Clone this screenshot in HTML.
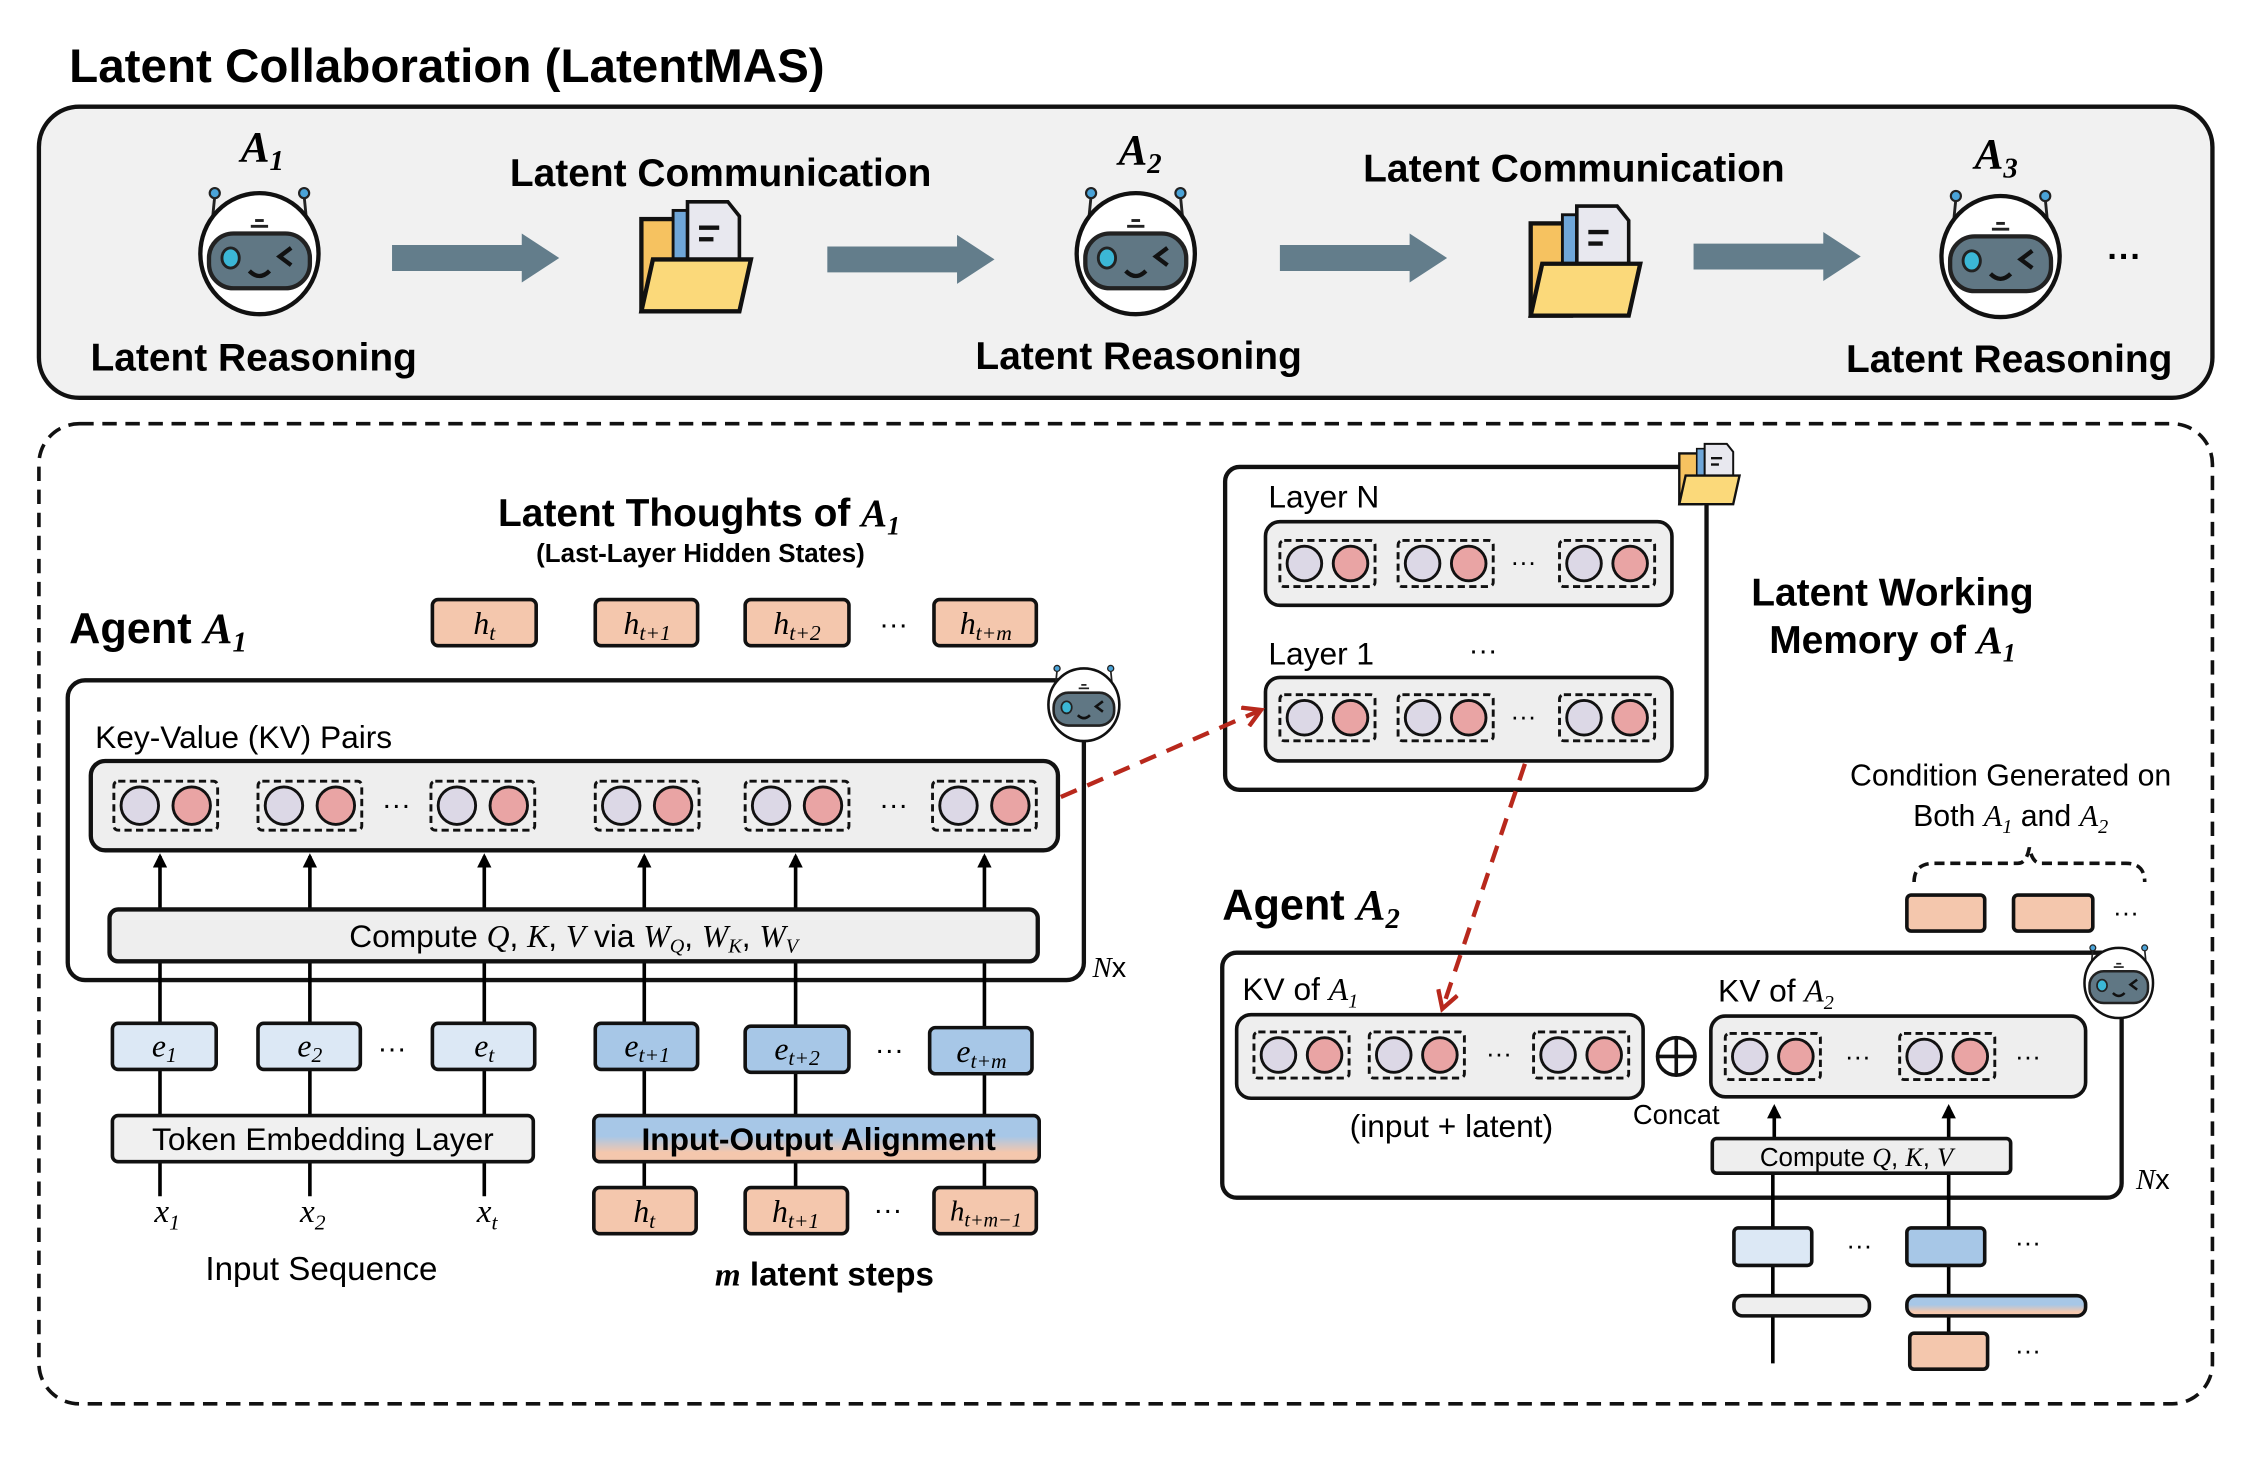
<!DOCTYPE html>
<html><head><meta charset="utf-8"><style>
html,body{margin:0;padding:0;background:#fff;}
svg{display:block}
text{font-family:"Liberation Sans",sans-serif;fill:#000}
.b{font-weight:bold}
.m{font-family:"Liberation Serif",serif;font-style:italic}
</style></head><body>
<svg width="2260" height="1460" viewBox="0 0 1568 1013" preserveAspectRatio="none" xmlns="http://www.w3.org/2000/svg">
<defs>
<g id="robot">
 <line x1="-31" y1="-40" x2="-33" y2="-20" stroke="#222" stroke-width="2"/>
 <line x1="31" y1="-40" x2="33" y2="-20" stroke="#222" stroke-width="2"/>
 <circle cx="-31" cy="-42" r="3.5" fill="#4aa3d8" stroke="#222" stroke-width="1.5"/>
 <circle cx="31" cy="-42" r="3.5" fill="#4aa3d8" stroke="#222" stroke-width="1.5"/>
 <ellipse cx="0" cy="0" rx="41" ry="42" fill="#fff" stroke="#111" stroke-width="3"/>
 <line x1="-3" y1="-23" x2="3" y2="-23" stroke="#222" stroke-width="2"/>
 <line x1="-6" y1="-19" x2="6" y2="-19" stroke="#222" stroke-width="2"/>
 <rect x="-35" y="-14" width="70" height="38" rx="17" fill="#607784" stroke="#222" stroke-width="3"/>
 <ellipse cx="-20" cy="3" rx="6" ry="7" fill="#3bb7d6" stroke="#222" stroke-width="2"/>
 <path d="M22 -4 L14 2 L22 8" fill="none" stroke="#111" stroke-width="3"/>
 <path d="M-7 12 Q0 19 7 12" fill="none" stroke="#111" stroke-width="3"/>
</g>
<g id="folder">
 <rect x="-38" y="-28" width="28" height="64" fill="#f6c260" stroke="#111" stroke-width="3"/>
 <rect x="-16" y="-34" width="10" height="44" fill="#6fa6d8" stroke="#111" stroke-width="2"/>
 <path d="M-6 -40 L22 -40 L30 -30 L30 8 L-6 8 Z" fill="#e8e8ef" stroke="#111" stroke-width="2.5"/>
 <line x1="2" y1="-22" x2="16" y2="-22" stroke="#111" stroke-width="3"/>
 <line x1="2" y1="-14" x2="12" y2="-14" stroke="#111" stroke-width="3"/>
 <path d="M-30 0 L38 0 L30 36 L-38 36 Z" fill="#fbd97a" stroke="#111" stroke-width="3"/>
</g>
<g id="pair">
 <rect x="-36" y="-17" width="72" height="34" rx="3" fill="none" stroke="#111" stroke-width="2" stroke-dasharray="5,3"/>
 <circle cx="-18" cy="0" r="13" fill="#dcd8e6" stroke="#111" stroke-width="2"/>
 <circle cx="18" cy="0" r="13" fill="#e9a4a4" stroke="#111" stroke-width="2"/>
</g>
<g id="pairS">
 <rect x="-33" y="-16" width="66" height="32" rx="3" fill="none" stroke="#111" stroke-width="2" stroke-dasharray="5,3"/>
 <circle cx="-16" cy="0" r="12" fill="#dcd8e6" stroke="#111" stroke-width="2"/>
 <circle cx="16" cy="0" r="12" fill="#e9a4a4" stroke="#111" stroke-width="2"/>
</g>
<g id="garrow"><path d="M0 -9 L90 -9 L90 -17 L116 0 L90 17 L90 9 L0 9 Z" fill="#637d8b"/></g>
<marker id="ah" markerWidth="10" markerHeight="10" refX="8" refY="5" orient="auto" markerUnits="userSpaceOnUse"><path d="M0 0 L10 5 L0 10 Z" fill="#000"/></marker>
<marker id="rh" markerWidth="16" markerHeight="16" refX="12" refY="8" orient="auto" markerUnits="userSpaceOnUse"><path d="M1 1 L13 8 L1 15" fill="none" stroke="#b8281c" stroke-width="3"/></marker>
<linearGradient id="ioa" x1="0" y1="0" x2="0" y2="1"><stop offset="0.45" stop-color="#a7c7e7"/><stop offset="0.8" stop-color="#f4c7ad"/></linearGradient>
</defs>

<text x="48" y="57" class="b" font-size="33">Latent Collaboration (LatentMAS)</text>
<rect x="27" y="74" width="1508" height="202" rx="28" fill="#f1f1f1" stroke="#111" stroke-width="3"/>
<text x="167" y="112" class="m" font-size="30" font-weight="bold">A<tspan font-size="20" dy="6">1</tspan></text>
<text x="776" y="114" class="m" font-size="30" font-weight="bold">A<tspan font-size="20" dy="6">2</tspan></text>
<text x="1370" y="117" class="m" font-size="30" font-weight="bold">A<tspan font-size="20" dy="6">3</tspan></text>
<use href="#robot" x="180" y="176"/>
<use href="#robot" x="788" y="176"/>
<use href="#robot" x="1388" y="178"/>
<text x="500" y="129" text-anchor="middle" class="b" font-size="27">Latent Communication</text>
<text x="1092" y="126" text-anchor="middle" class="b" font-size="27">Latent Communication</text>
<use href="#garrow" x="272" y="179"/>
<use href="#garrow" x="574" y="180"/>
<use href="#garrow" x="888" y="179"/>
<use href="#garrow" x="1175" y="178"/>
<use href="#folder" x="483" y="180"/>
<use href="#folder" x="1100" y="183"/>
<text x="176" y="257" text-anchor="middle" class="b" font-size="27">Latent Reasoning</text>
<text x="790" y="256" text-anchor="middle" class="b" font-size="27">Latent Reasoning</text>
<text x="1394" y="258" text-anchor="middle" class="b" font-size="27">Latent Reasoning</text>
<text x="1474" y="186" text-anchor="middle" class="b" font-size="24">···</text>

<rect x="27" y="294" width="1508" height="680" rx="28" fill="none" stroke="#111" stroke-width="2.5" stroke-dasharray="10,6"/>

<text x="485" y="365" text-anchor="middle" class="b" font-size="27">Latent Thoughts of <tspan class="m">A</tspan><tspan class="m" font-size="18" dy="6">1</tspan></text>
<text x="486" y="390" text-anchor="middle" class="b" font-size="18">(Last-Layer Hidden States)</text>
<text x="48" y="446" class="b" font-size="30">Agent <tspan class="m">A</tspan><tspan class="m" font-size="20" dy="6">1</tspan></text>
<g fill="#f4c7ad" stroke="#111" stroke-width="2.5">
<rect x="300" y="416" width="72" height="32" rx="4"/><rect x="413" y="416" width="71" height="32" rx="4"/><rect x="517" y="416" width="72" height="32" rx="4"/><rect x="648" y="416" width="71" height="32" rx="4"/></g>
<g class="m" font-size="22" text-anchor="middle">
<text x="336" y="440" class="m">h<tspan font-size="15" dy="4">t</tspan></text>
<text x="449" y="440" class="m">h<tspan font-size="15" dy="4">t+1</tspan></text>
<text x="553" y="440" class="m">h<tspan font-size="15" dy="4">t+2</tspan></text>
<text x="684" y="440" class="m">h<tspan font-size="15" dy="4">t+m</tspan></text></g>
<text x="620" y="440" text-anchor="middle" font-size="20">···</text>

<rect x="47" y="472" width="705" height="208" rx="12" fill="none" stroke="#111" stroke-width="3"/>
<use href="#robot" transform="translate(752,489) scale(0.6)"/>
<text x="66" y="519" font-size="22">Key-Value (KV) Pairs</text>
<rect x="63" y="528" width="671" height="62" rx="10" fill="#eee" stroke="#111" stroke-width="3"/>
<use href="#pair" x="115" y="559"/><use href="#pair" x="215" y="559"/><use href="#pair" x="335" y="559"/>
<use href="#pair" x="449" y="559"/><use href="#pair" x="553" y="559"/><use href="#pair" x="683" y="559"/>
<text x="275" y="565" text-anchor="middle" font-size="20">···</text>
<text x="620" y="565" text-anchor="middle" font-size="20">···</text>
<g stroke="#000" stroke-width="2.5" marker-end="url(#ah)">
<line x1="111" y1="631" x2="111" y2="594"/><line x1="215" y1="631" x2="215" y2="594"/><line x1="336" y1="631" x2="336" y2="594"/>
<line x1="447" y1="631" x2="447" y2="594"/><line x1="552" y1="631" x2="552" y2="594"/><line x1="683" y1="631" x2="683" y2="594"/></g>
<g stroke="#000" stroke-width="2.5">
<line x1="111" y1="667" x2="111" y2="774"/><line x1="215" y1="667" x2="215" y2="774"/><line x1="336" y1="667" x2="336" y2="774"/>
<line x1="447" y1="667" x2="447" y2="824"/><line x1="552" y1="667" x2="552" y2="824"/><line x1="683" y1="667" x2="683" y2="824"/>
<line x1="111" y1="806" x2="111" y2="830"/><line x1="215" y1="806" x2="215" y2="830"/><line x1="336" y1="806" x2="336" y2="830"/></g>
<rect x="76" y="631" width="644" height="36" rx="6" fill="#eee" stroke="#111" stroke-width="3"/>
<text x="398" y="657" text-anchor="middle" font-size="22">Compute <tspan class="m">Q</tspan>, <tspan class="m">K</tspan>, <tspan class="m">V</tspan> via <tspan class="m">W</tspan><tspan class="m" font-size="14" dy="4">Q</tspan><tspan dy="-4">, </tspan><tspan class="m">W</tspan><tspan class="m" font-size="14" dy="4">K</tspan><tspan dy="-4">, </tspan><tspan class="m">W</tspan><tspan class="m" font-size="14" dy="4">V</tspan></text>
<text x="758" y="678" class="m" font-size="20">N<tspan font-style="normal" font-family="Liberation Sans">x</tspan></text>

<g stroke="#111" stroke-width="2.5">
<rect x="78" y="710" width="72" height="32" rx="4" fill="#dce8f5"/><rect x="179" y="710" width="71" height="32" rx="4" fill="#dce8f5"/><rect x="300" y="710" width="71" height="32" rx="4" fill="#dce8f5"/>
<rect x="413" y="710" width="71" height="32" rx="4" fill="#a7c7e7"/><rect x="517" y="712" width="72" height="32" rx="4" fill="#a7c7e7"/><rect x="645" y="713" width="71" height="32" rx="4" fill="#a7c7e7"/></g>
<g font-size="22" text-anchor="middle">
<text x="114" y="733" class="m">e<tspan font-size="15" dy="4">1</tspan></text>
<text x="215" y="733" class="m">e<tspan font-size="15" dy="4">2</tspan></text>
<text x="336" y="733" class="m">e<tspan font-size="15" dy="4">t</tspan></text>
<text x="449" y="733" class="m">e<tspan font-size="15" dy="4">t+1</tspan></text>
<text x="553" y="735" class="m">e<tspan font-size="15" dy="4">t+2</tspan></text>
<text x="681" y="737" class="m">e<tspan font-size="15" dy="4">t+m</tspan></text></g>
<text x="272" y="734" text-anchor="middle" font-size="20">···</text>
<text x="617" y="735" text-anchor="middle" font-size="20">···</text>

<rect x="78" y="774" width="292" height="32" rx="4" fill="#f0f0f0" stroke="#111" stroke-width="2.5"/>
<text x="224" y="798" text-anchor="middle" font-size="22">Token Embedding Layer</text>
<rect x="412" y="774" width="309" height="32" rx="4" fill="url(#ioa)" stroke="#111" stroke-width="2.5"/>
<text x="568" y="798" text-anchor="middle" class="b" font-size="22">Input-Output Alignment</text>
<g fill="#f4c7ad" stroke="#111" stroke-width="2.5">
<rect x="412" y="824" width="71" height="32" rx="4"/><rect x="517" y="824" width="71" height="32" rx="4"/><rect x="648" y="824" width="71" height="32" rx="4"/></g>
<g font-size="22" text-anchor="middle">
<text x="447" y="848" class="m">h<tspan font-size="15" dy="4">t</tspan></text>
<text x="552" y="848" class="m">h<tspan font-size="15" dy="4">t+1</tspan></text>
<text x="684" y="847" class="m" font-size="20">h<tspan font-size="14" dy="4">t+m−1</tspan></text></g>
<text x="616" y="846" text-anchor="middle" font-size="20">···</text>
<g font-size="23" text-anchor="middle">
<text x="116" y="848" class="m">x<tspan font-size="15" dy="5">1</tspan></text>
<text x="217" y="848" class="m">x<tspan font-size="15" dy="5">2</tspan></text>
<text x="338" y="848" class="m">x<tspan font-size="15" dy="5">t</tspan></text></g>
<text x="223" y="888" text-anchor="middle" font-size="23">Input Sequence</text>
<text x="572" y="892" text-anchor="middle" class="b" font-size="23"><tspan class="m">m</tspan> latent steps</text>

<rect x="850" y="324" width="334" height="224" rx="10" fill="#fff" stroke="#111" stroke-width="3"/>
<use href="#folder" transform="translate(1186,330) scale(0.55)"/>
<text x="880" y="352" font-size="22">Layer N</text>
<rect x="878" y="362" width="282" height="58" rx="10" fill="#eee" stroke="#111" stroke-width="2.5"/>
<use href="#pairS" x="921" y="391"/><use href="#pairS" x="1003" y="391"/><use href="#pairS" x="1115" y="391"/>
<text x="1057" y="396" text-anchor="middle" font-size="18">···</text>
<text x="880" y="461" font-size="22">Layer 1</text>
<text x="1029" y="458" text-anchor="middle" font-size="20">···</text>
<rect x="878" y="470" width="282" height="58" rx="10" fill="#eee" stroke="#111" stroke-width="2.5"/>
<use href="#pairS" x="921" y="498"/><use href="#pairS" x="1003" y="498"/><use href="#pairS" x="1115" y="498"/>
<text x="1057" y="503" text-anchor="middle" font-size="18">···</text>
<text x="1313" y="420" text-anchor="middle" class="b" font-size="27">Latent Working</text>
<text x="1313" y="453" text-anchor="middle" class="b" font-size="27">Memory of <tspan class="m">A</tspan><tspan class="m" font-size="18" dy="6">1</tspan></text>

<line x1="736" y1="553" x2="874" y2="493" stroke="#b8281c" stroke-width="3" stroke-dasharray="12,8" marker-end="url(#rh)"/>
<line x1="1058" y1="530" x2="1001" y2="699" stroke="#b8281c" stroke-width="3" stroke-dasharray="12,8" marker-end="url(#rh)"/>

<text x="1395" y="545" text-anchor="middle" font-size="21">Condition Generated on</text>
<text x="1395" y="573" text-anchor="middle" font-size="21">Both <tspan class="m">A</tspan><tspan class="m" font-size="14" dy="5">1</tspan><tspan dy="-5"> and </tspan><tspan class="m">A</tspan><tspan class="m" font-size="14" dy="5">2</tspan></text>
<path d="M1328 612 Q1328 599 1342 599 L1400 599 Q1406 599 1408 588 Q1410 599 1416 599 L1475 599 Q1488 599 1488 612" fill="none" stroke="#111" stroke-width="2.5" stroke-dasharray="7,4"/>
<rect x="1323" y="621" width="54" height="25" rx="3" fill="#f4c7ad" stroke="#111" stroke-width="2.5"/>
<rect x="1397" y="621" width="55" height="25" rx="3" fill="#f4c7ad" stroke="#111" stroke-width="2.5"/>
<text x="1475" y="639" text-anchor="middle" font-size="18">···</text>

<text x="848" y="638" class="b" font-size="30">Agent <tspan class="m">A</tspan><tspan class="m" font-size="20" dy="6">2</tspan></text>
<rect x="848" y="661" width="624" height="170" rx="10" fill="none" stroke="#111" stroke-width="3"/>
<use href="#robot" transform="translate(1470,682) scale(0.58)"/>
<text x="1482" y="825" class="m" font-size="20">N<tspan font-style="normal" font-family="Liberation Sans">x</tspan></text>
<text x="862" y="694" font-size="22">KV of <tspan class="m">A</tspan><tspan class="m" font-size="14" dy="5">1</tspan></text>
<rect x="858" y="704" width="282" height="58" rx="10" fill="#eee" stroke="#111" stroke-width="2.5"/>
<use href="#pairS" x="903" y="732"/><use href="#pairS" x="983" y="732"/><use href="#pairS" x="1097" y="732"/>
<text x="1040" y="737" text-anchor="middle" font-size="18">···</text>
<text x="1007" y="789" text-anchor="middle" font-size="22">(input + latent)</text>
<circle cx="1163" cy="733" r="13" fill="none" stroke="#111" stroke-width="2.5"/>
<line x1="1150" y1="733" x2="1176" y2="733" stroke="#111" stroke-width="2.5"/><line x1="1163" y1="720" x2="1163" y2="746" stroke="#111" stroke-width="2.5"/>
<text x="1163" y="780" text-anchor="middle" font-size="19">Concat</text>
<text x="1192" y="695" font-size="22">KV of <tspan class="m">A</tspan><tspan class="m" font-size="14" dy="5">2</tspan></text>
<rect x="1187" y="705" width="260" height="56" rx="10" fill="#eee" stroke="#111" stroke-width="2.5"/>
<use href="#pairS" x="1230" y="733"/><use href="#pairS" x="1351" y="733"/>
<text x="1289" y="739" text-anchor="middle" font-size="18">···</text>
<text x="1407" y="739" text-anchor="middle" font-size="18">···</text>
<g stroke="#000" stroke-width="2.5">
<line x1="1231" y1="790" x2="1231" y2="768" marker-end="url(#ah)"/><line x1="1352" y1="790" x2="1352" y2="768" marker-end="url(#ah)"/>
<line x1="1230" y1="814" x2="1230" y2="946"/><line x1="1352" y1="814" x2="1352" y2="926"/></g>
<rect x="1188" y="790" width="207" height="24" rx="3" fill="#eee" stroke="#111" stroke-width="2.5"/>
<text x="1288" y="809" text-anchor="middle" font-size="18">Compute <tspan class="m">Q</tspan>, <tspan class="m">K</tspan>, <tspan class="m">V</tspan></text>
<rect x="1203" y="852" width="54" height="26" rx="3" fill="#dce8f5" stroke="#111" stroke-width="2.5"/>
<rect x="1323" y="852" width="54" height="26" rx="3" fill="#a7c7e7" stroke="#111" stroke-width="2.5"/>
<text x="1290" y="870" text-anchor="middle" font-size="18">···</text>
<text x="1407" y="868" text-anchor="middle" font-size="18">···</text>
<rect x="1203" y="899" width="94" height="14" rx="6" fill="#eee" stroke="#111" stroke-width="2.5"/>
<rect x="1323" y="899" width="124" height="14" rx="6" fill="url(#ioa)" stroke="#111" stroke-width="2.5"/>
<rect x="1325" y="925" width="54" height="25" rx="3" fill="#f4c7ad" stroke="#111" stroke-width="2.5"/>
<text x="1407" y="943" text-anchor="middle" font-size="18">···</text>
</svg>
</body></html>
